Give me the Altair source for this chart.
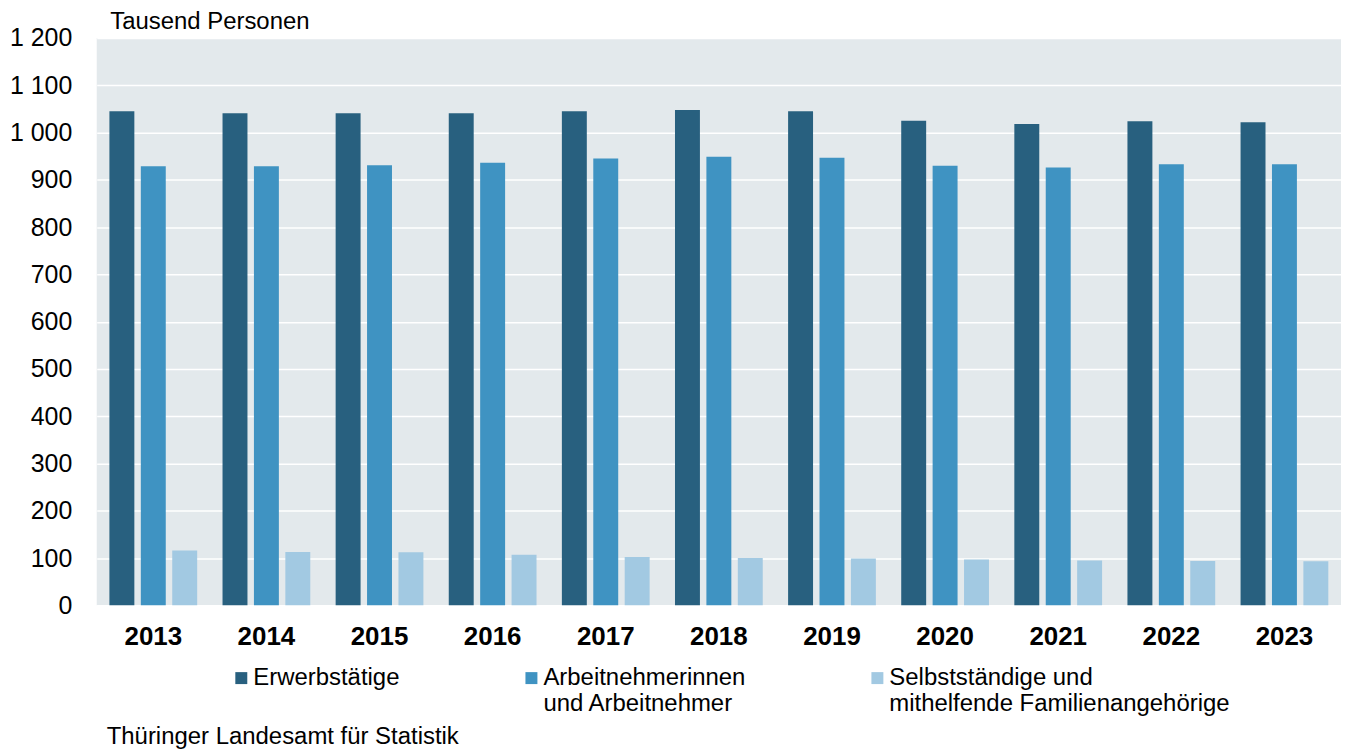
import altair as alt
import pandas as pd

years = ["2013", "2014", "2015", "2016", "2017", "2018", "2019", "2020", "2021", "2022", "2023"]
series = [
    "Erwerbstätige",
    "Arbeitnehmerinnen\nund Arbeitnehmer",
    "Selbstständige und\nmithelfende Familienangehörige",
]
erwerbstaetige = [1045, 1041, 1041, 1041, 1045, 1048, 1045, 1025, 1018, 1024, 1022]
arbeitnehmer = [929, 929, 931, 936, 945, 949, 947, 930, 926, 933, 933]
selbststaendige = [116, 113, 112, 107, 102, 100, 99, 97, 95, 94, 93]
colors = ["#28607f", "#3f93c2", "#a2c9e2"]
y_ticks = list(range(0, 1201, 100))

rows = []
for name, vals in zip(series, [erwerbstaetige, arbeitnehmer, selbststaendige]):
    for y, v in zip(years, vals):
        rows.append({"Jahr": y, "Reihe": name, "Wert": v})
df = pd.DataFrame(rows)

FONT = "Liberation Sans"

chart = (
    alt.Chart(df)
    .mark_bar()
    .encode(
        x=alt.X(
            "Jahr:O",
            sort=years,
            scale=alt.Scale(paddingInner=0.167, paddingOuter=0.0835),
            axis=alt.Axis(
                title=None,
                labelAngle=0,
                labelFontSize=26,
                labelFontWeight="bold",
                labelColor="#000000",
                ticks=False,
                domain=False,
                labelPadding=18,
            ),
        ),
        xOffset=alt.XOffset(
            "Reihe:N",
            sort=series,
            scale=alt.Scale(paddingInner=0.206, paddingOuter=0.103),
        ),
        y=alt.Y(
            "Wert:Q",
            scale=alt.Scale(domain=[0, 1200], nice=False),
            axis=alt.Axis(
                title="Tausend Personen",
                titleAngle=0,
                titleAlign="left",
                titleBaseline="alphabetic",
                titleX=13,
                titleY=-10,
                titleFontSize=24,
                titleFontWeight="normal",
                titleColor="#000000",
                values=y_ticks,
                labelExpr="replace(format(datum.value, ','), ',', ' ')",
                labelFontSize=25,
                labelColor="#000000",
                labelPadding=25,
                ticks=False,
                domain=False,
                grid=True,
                gridColor="#ffffff",
                gridWidth=1.5,
            ),
        ),
        color=alt.Color(
            "Reihe:N",
            sort=series,
            scale=alt.Scale(domain=series, range=colors),
            legend=alt.Legend(
                title=None,
                orient="none",
                legendX=133,
                legendY=630,
                direction="horizontal",
                columns=3,
                columnPadding=120,
                symbolType="square",
                symbolSize=144,
                symbolStrokeWidth=0,
                labelOffset=0,
                labelFontSize=24,
                labelColor="#000000",
                labelLimit=700,
                labelExpr="indexof(datum.label, '\\n') >= 0 ? split(datum.label, '\\n') : [datum.label, '']",
                padding=0,
            ),
        ),
    )
    .properties(
        width=1248,
        height=569,
        autosize=alt.AutoSizeParams(type="none"),
        padding={"left": 89, "top": 29, "right": 0, "bottom": 143},
        title=alt.TitleParams(
            text="Thüringer Landesamt für Statistik",
            orient="bottom",
            anchor="start",
            frame="group",
            dx=10,
            fontSize=24,
            fontWeight="normal",
            color="#000000",
            font=FONT,
            offset=9,
        ),
    )
    .configure(font=FONT)
    .configure_view(fill="#e3e9ec", stroke=None)
    .configure_axis(labelFont=FONT, titleFont=FONT)
    .configure_legend(labelFont=FONT)
)

chart.save("out.html", embed_options={"renderer": "svg", "actions": False})
